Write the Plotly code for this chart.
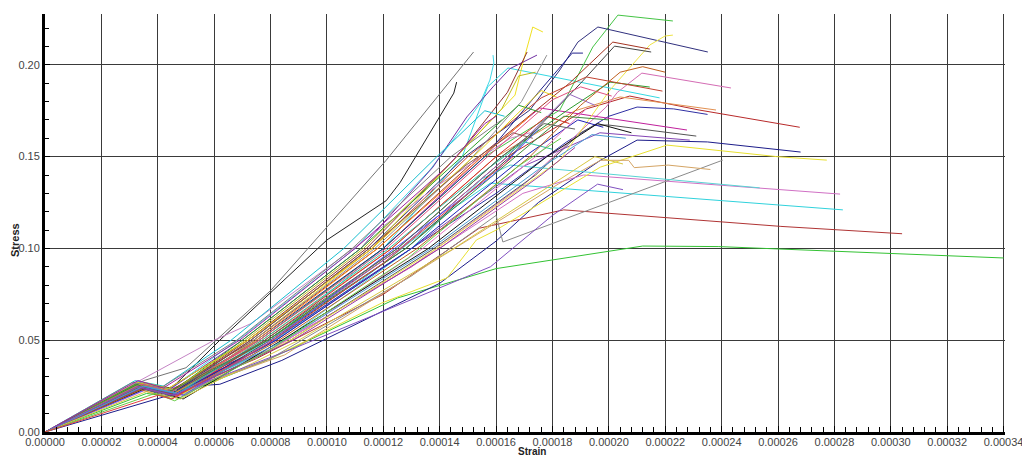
import plotly.graph_objects as go

# Stress-strain test curves. Strain values are given in units of 1e-5.
STRAIN_UNIT = 1e-5

green_long = [(0, 0), (3.6, 0.021), (4.6, 0.019), (8.0, 0.040), (12.5, 0.073), (16.0, 0.089), (21.2, 0.1013), (23.9, 0.101), (34.0, 0.0948)]
navy_low = [(0, 0), (4.4, 0.020), (5.3, 0.025), (6.2, 0.026), (8.4, 0.039), (14.0, 0.081), (16.0, 0.104), (17.5, 0.125), (19.7, 0.148), (21.0, 0.159), (23.5, 0.158), (26.8, 0.1525)]
red_low = [(0, 0), (3.5, 0.025), (4.6, 0.021), (7.5, 0.040), (12.0, 0.075), (15.4, 0.111), (18.4, 0.121), (26.1, 0.112), (30.4, 0.108)]
cyan_low = [(0, 0), (3.4, 0.026), (4.5, 0.022), (7.0, 0.038), (11.0, 0.080), (14.5, 0.122), (15.8, 0.1356), (28.3, 0.121)]
pink_low = [(0, 0), (3.2, 0.026), (4.4, 0.022), (8.0, 0.045), (13.0, 0.090), (16.95, 0.130), (19.1, 0.140), (28.2, 0.1296)]
yellow_low = [(0, 0), (3.6, 0.024), (4.8, 0.021), (8.0, 0.040), (11.95, 0.0703), (14.26, 0.0839), (15.3, 0.1046), (16.0, 0.110), (19.7, 0.1443), (22.06, 0.1563), (25.96, 0.150), (27.73, 0.1481)]
gray_reload = [(0, 0), (3.5, 0.024), (4.6, 0.020), (8.0, 0.040), (13.0, 0.085), (16.0, 0.118), (16.24, 0.1035), (24.04, 0.1481)]
tan_wavy = [(0, 0), (3.6, 0.025), (4.7, 0.021), (8.5, 0.042), (14.0, 0.095), (18.2, 0.135), (19.7, 0.148), (20.7, 0.148), (20.9, 0.144), (22.1, 0.1454), (23.6, 0.143)]
navy_mid = [(0, 0), (3.3, 0.026), (4.3, 0.022), (7.5, 0.044), (12.0, 0.090), (16.0, 0.130), (18.5, 0.158), (20.0, 0.172), (21.0, 0.177), (22.3, 0.176), (23.5, 0.173)]
red_mid = [(0, 0), (3.5, 0.025), (4.6, 0.021), (7.9, 0.050), (12.6, 0.100), (16.4, 0.150), (19.2, 0.176), (20.74, 0.183), (23.2, 0.1754), (26.77, 0.166)]
orange_mid = [(0, 0), (3.4, 0.026), (4.5, 0.022), (7.7, 0.050), (12.3, 0.100), (16.0, 0.150), (18.8, 0.175), (20.4, 0.1825), (23.8, 0.1754)]
pink_high = [(0, 0), (3.3, 0.027), (4.4, 0.023), (8.0, 0.045), (13.0, 0.090), (17.0, 0.135), (19.9, 0.177), (20.3, 0.185), (21.17, 0.1955), (24.33, 0.1874)]
darkgray_flat = [(0, 0), (3.5, 0.024), (4.6, 0.020), (8.5, 0.048), (13.8, 0.100), (17.4, 0.140), (19.0, 0.163), (19.5, 0.1672), (20.0, 0.1672), (23.1, 0.1612)]
magenta_mid = [(0, 0), (3.4, 0.026), (4.5, 0.021), (7.6, 0.050), (12.0, 0.100), (15.5, 0.150), (17.55, 0.1765), (22.77, 0.1645)]
purple_mid = [(0, 0), (3.5, 0.025), (4.6, 0.021), (8.2, 0.050), (13.0, 0.100), (17.0, 0.145), (19.68, 0.163), (22.87, 0.159)]
cyan_top = [(0, 0), (3.4, 0.026), (4.6, 0.022), (8.0, 0.050), (12.0, 0.100), (14.8, 0.150), (15.7, 0.188), (16.42, 0.1983), (21.8, 0.182)]
cyan_mid = [(0, 0), (3.5, 0.025), (4.6, 0.021), (8.0, 0.045), (13.0, 0.100), (15.5, 0.138), (16.5, 0.1454), (25.35, 0.133)]
green_top = [(0, 0), (3.3, 0.026), (4.4, 0.022), (7.6, 0.050), (12.0, 0.100), (15.6, 0.150), (18.26, 0.1754), (19.43, 0.2097), (20.32, 0.2271), (22.27, 0.2239)]
navy_top = [(0, 0), (3.4, 0.025), (4.5, 0.021), (7.3, 0.050), (11.5, 0.100), (14.9, 0.150), (17.2, 0.1754), (18.26, 0.1972), (18.9, 0.2124), (19.61, 0.2206), (23.51, 0.207)]
yellow_top = [(0, 0), (3.5, 0.025), (4.7, 0.021), (7.4, 0.050), (11.6, 0.100), (14.6, 0.150), (16.67, 0.1835), (16.95, 0.201), (17.3, 0.2206), (17.66, 0.2179)]
yellow_late = [(0, 0), (3.6, 0.024), (4.8, 0.020), (8.7, 0.050), (13.9, 0.100), (18.26, 0.148), (20.04, 0.1863), (21.45, 0.2108), (21.99, 0.2157), (22.27, 0.2162)]
brown_top = [(0, 0), (3.3, 0.026), (4.4, 0.022), (7.4, 0.050), (11.8, 0.100), (15.4, 0.150), (18.6, 0.190), (20.14, 0.2124), (21.45, 0.2086)]
darkgray_top = [(0, 0), (3.6, 0.024), (4.7, 0.020), (8.0, 0.050), (12.8, 0.100), (16.5, 0.150), (19.0, 0.190), (20.2, 0.2102), (21.5, 0.207)]
darkgreen_top = [(0, 0), (3.4, 0.025), (4.5, 0.021), (7.9, 0.050), (12.5, 0.100), (16.2, 0.150), (18.5, 0.175), (20.04, 0.1906), (21.45, 0.1879)]
red_top = [(0, 0), (3.3, 0.027), (4.3, 0.023), (7.2, 0.050), (11.6, 0.100), (15.0, 0.150), (17.6, 0.182), (19.2, 0.1934), (21.9, 0.1857)]
gray_early = [(0, 0), (3.5, 0.028), (5.0, 0.035), (8.0, 0.077), (12.1, 0.148), (15.2, 0.207)]
black_early = [(0, 0), (3.4, 0.026), (4.5, 0.024), (6.2, 0.050), (10.0, 0.1046), (12.1, 0.126), (12.6, 0.136), (14.0, 0.1716), (14.5, 0.1846), (14.6, 0.1906)]
cyan_spike = [(0, 0), (3.3, 0.027), (4.4, 0.023), (7.0, 0.052), (11.0, 0.100), (13.65, 0.1427), (14.82, 0.166), (15.43, 0.179), (15.78, 0.1917), (15.92, 0.201), (15.89, 0.2053)]
purple_early = [(0, 0), (3.3, 0.027), (4.4, 0.023), (7.0, 0.050), (11.2, 0.100), (13.76, 0.1443), (14.96, 0.1716), (15.89, 0.188), (16.5, 0.198), (17.45, 0.2053)]
navy_short = [(0, 0), (3.4, 0.025), (4.5, 0.021), (7.5, 0.050), (12.0, 0.100), (15.6, 0.150), (17.5, 0.185), (18.7, 0.2064), (19.08, 0.2064)]
gray_high = [(0, 0), (3.6, 0.026), (4.8, 0.022), (7.4, 0.050), (11.7, 0.100), (15.0, 0.147), (16.9, 0.180), (17.8, 0.2053)]
brown_high = [(0, 0), (3.4, 0.026), (4.5, 0.022), (7.2, 0.050), (11.4, 0.100), (14.6, 0.150), (16.4, 0.185), (17.1, 0.207)]
pink_straight = [(0, 0), (6.0, 0.050), (7.3, 0.059), (10.5, 0.095), (14.0, 0.135), (16.5, 0.160), (17.2, 0.163)]

bundle_01 = [(0, 0), (3.3, 0.026), (4.5, 0.022), (7.0, 0.050), (11.2, 0.100), (14.8, 0.150), (16.8, 0.178), (17.6, 0.174)]
bundle_02 = [(0, 0), (3.5, 0.025), (4.7, 0.020), (7.8, 0.050), (12.3, 0.100), (16.0, 0.150), (17.8, 0.172), (18.6, 0.168)]
bundle_03 = [(0, 0), (3.4, 0.024), (4.4, 0.019), (8.2, 0.050), (13.0, 0.100), (17.0, 0.150), (18.9, 0.170), (19.8, 0.166)]
bundle_04 = [(0, 0), (3.2, 0.028), (4.2, 0.025), (6.6, 0.050), (10.6, 0.100), (13.9, 0.150), (15.6, 0.175), (16.3, 0.172)]
bundle_05 = [(0, 0), (3.6, 0.023), (4.8, 0.019), (8.6, 0.050), (13.4, 0.100), (17.4, 0.150), (19.2, 0.176)]
bundle_06 = [(0, 0), (3.3, 0.027), (4.3, 0.023), (7.2, 0.050), (11.6, 0.100), (15.2, 0.150), (17.6, 0.186), (18.2, 0.182)]
bundle_07 = [(0, 0), (3.5, 0.026), (4.6, 0.021), (7.5, 0.050), (11.8, 0.100), (15.5, 0.150), (17.2, 0.172)]
bundle_08 = [(0, 0), (3.4, 0.025), (5.0, 0.020), (8.0, 0.050), (12.6, 0.100), (16.4, 0.150), (18.6, 0.184), (19.5, 0.178)]
bundle_09 = [(0, 0), (3.1, 0.027), (4.1, 0.024), (6.8, 0.050), (10.9, 0.100), (14.4, 0.150), (16.2, 0.170)]
bundle_10 = [(0, 0), (3.6, 0.024), (4.9, 0.018), (8.4, 0.050), (13.6, 0.100), (17.8, 0.150), (19.6, 0.168), (20.8, 0.163)]
bundle_11 = [(0, 0), (3.3, 0.025), (4.4, 0.021), (7.3, 0.050), (11.5, 0.100), (14.9, 0.145), (16.6, 0.163), (17.3, 0.160)]
bundle_12 = [(0, 0), (3.5, 0.027), (4.6, 0.023), (7.1, 0.050), (11.3, 0.100), (14.6, 0.150), (16.2, 0.176), (16.8, 0.194), (17.4, 0.196)]
bundle_13 = [(0, 0), (3.4, 0.026), (4.5, 0.022), (7.6, 0.050), (12.1, 0.100), (15.7, 0.150), (18.0, 0.181), (19.0, 0.188), (20.1, 0.183)]
bundle_14 = [(0, 0), (3.2, 0.026), (4.3, 0.021), (7.9, 0.050), (12.8, 0.100), (16.7, 0.150), (18.4, 0.172), (20.0, 0.170)]
bundle_15 = [(0, 0), (3.7, 0.024), (4.9, 0.020), (8.1, 0.050), (12.4, 0.100), (15.9, 0.140), (17.5, 0.165)]
bundle_16 = [(0, 0), (3.3, 0.028), (4.2, 0.024), (6.9, 0.050), (11.0, 0.100), (14.3, 0.145), (15.6, 0.168), (16.0, 0.172)]
bundle_17 = [(0, 0), (3.5, 0.025), (4.7, 0.021), (7.7, 0.050), (12.2, 0.100), (15.4, 0.140), (17.0, 0.158), (18.0, 0.154)]
bundle_18 = [(0, 0), (3.4, 0.023), (4.5, 0.018), (8.3, 0.050), (13.2, 0.100), (17.2, 0.150), (19.0, 0.178), (20.4, 0.196), (21.2, 0.199), (22.0, 0.196)]
bundle_19 = [(0, 0), (3.3, 0.024), (4.4, 0.020), (7.8, 0.050), (12.5, 0.100), (16.2, 0.150), (17.7, 0.168), (18.8, 0.165)]
bundle_20 = [(0, 0), (3.6, 0.022), (4.8, 0.018), (9.0, 0.050), (14.5, 0.100), (18.0, 0.135), (19.5, 0.150), (20.5, 0.146)]
bundle_21 = [(0, 0), (3.4, 0.024), (4.6, 0.020), (8.8, 0.050), (14.0, 0.100), (17.6, 0.140), (18.8, 0.155)]
bundle_22 = [(0, 0), (3.5, 0.025), (4.7, 0.021), (8.5, 0.050), (13.7, 0.100), (17.5, 0.143), (19.4, 0.162), (20.6, 0.160)]
bundle_23 = [(0, 0), (3.3, 0.025), (4.5, 0.020), (8.9, 0.046), (15.8, 0.090), (18.0, 0.118), (19.6, 0.135), (20.5, 0.132)]
bundle_24 = [(0, 0), (3.9, 0.021), (4.6, 0.017), (8.0, 0.045), (12.9, 0.095), (16.8, 0.145), (18.3, 0.160)]
bundle_25 = [(0, 0), (4.0, 0.020), (4.5, 0.018), (7.9, 0.048), (12.0, 0.092), (15.2, 0.132), (16.6, 0.150)]

series = [
    (green_long, "#33c233"), (navy_low, "#1c1c8a"), (red_low, "#b03434"),
    (cyan_low, "#30d2dc"), (pink_low, "#d070c4"), (yellow_low, "#e8e030"),
    (gray_reload, "#8a8a8a"), (tan_wavy, "#d4a464"), (navy_mid, "#3030a4"),
    (red_mid, "#b82a2a"), (orange_mid, "#e29050"), (pink_high, "#d46cb4"),
    (darkgray_flat, "#555555"), (magenta_mid, "#c0209c"), (purple_mid, "#8444b4"),
    (cyan_top, "#34d8e2"), (cyan_mid, "#58d4d4"), (green_top, "#44c444"),
    (navy_top, "#30307e"), (yellow_top, "#f0e020"), (yellow_late, "#efe444"),
    (brown_top, "#a43422"), (darkgray_top, "#444444"), (darkgreen_top, "#2e9c2e"),
    (red_top, "#c24230"), (gray_early, "#747474"), (black_early, "#202020"),
    (cyan_spike, "#40d8e8"), (purple_early, "#7030a2"), (navy_short, "#22228e"),
    (gray_high, "#929292"), (brown_high, "#903232"), (pink_straight, "#c484c4"),
    (bundle_01, "#2ca02c"), (bundle_02, "#d62728"), (bundle_03, "#1f1fb4"),
    (bundle_04, "#17becf"), (bundle_05, "#e377c2"), (bundle_06, "#e6d31a"),
    (bundle_07, "#ff8c1a"), (bundle_08, "#9467bd"), (bundle_09, "#7f7f7f"),
    (bundle_10, "#111111"), (bundle_11, "#8c564b"), (bundle_12, "#bcbd22"),
    (bundle_13, "#e05080"), (bundle_14, "#3c8c3c"), (bundle_15, "#5050ff"),
    (bundle_16, "#a020a0"), (bundle_17, "#30c0a0"), (bundle_18, "#c06020"),
    (bundle_19, "#606060"), (bundle_20, "#d8c840"), (bundle_21, "#9c3c9c"),
    (bundle_22, "#4a9cd4"), (bundle_23, "#8050c0"), (bundle_24, "#66cc44"),
    (bundle_25, "#e04040"),
]

fig = go.Figure()
for points, color in series:
    fig.add_trace(go.Scatter(
        x=[p[0] * STRAIN_UNIT for p in points],
        y=[p[1] for p in points],
        mode="lines",
        line=dict(color=color, width=1),
        hoverinfo="skip",
        showlegend=False,
    ))

grid_color = "#3a3a3a"
fig.update_layout(
    width=1022, height=459,
    margin=dict(l=45, r=17, t=14, b=27),
    plot_bgcolor="white", paper_bgcolor="white",
    font=dict(family="Liberation Sans, Arial, sans-serif", size=11, color="#444444"),
    showlegend=False,
    annotations=[
        dict(text="<b>Stress</b>", textangle=-90, x=-0.032, y=0.46,
             xref="paper", yref="paper", xanchor="center", yanchor="middle",
             showarrow=False, font=dict(size=11, color="#222222")),
        dict(text="<b>Strain</b>", x=0.507, y=-0.0646,
             xref="paper", yref="paper", xanchor="center", yanchor="bottom",
             showarrow=False, font=dict(size=10, color="#222222")),
    ],
)
fig.update_xaxes(
    range=[0, 0.0003405], tick0=0, dtick=0.00002, tickformat=".5f",
    ticklabeloverflow="allow", automargin=False, ticklabelstandoff=-2,
    showgrid=True, gridcolor=grid_color, gridwidth=1, zeroline=False,
    showline=True, linecolor="black", linewidth=3,
    ticks="inside", ticklen=6, tickcolor="black", tickwidth=1,
    minor=dict(dtick=0.000004, ticks="inside", ticklen=5, tickcolor="black", showgrid=False),
)
fig.update_yaxes(
    range=[0, 0.2277], tick0=0, dtick=0.05, tickformat=".2f",
    automargin=False,
    showgrid=True, gridcolor=grid_color, gridwidth=1, zeroline=False,
    showline=True, linecolor="black", linewidth=3,
    ticks="inside", ticklen=5, tickcolor="black", tickwidth=1,
    minor=dict(dtick=0.01, ticks="inside", ticklen=4, tickcolor="black", showgrid=False),
)

fig.write_html("out.html")
